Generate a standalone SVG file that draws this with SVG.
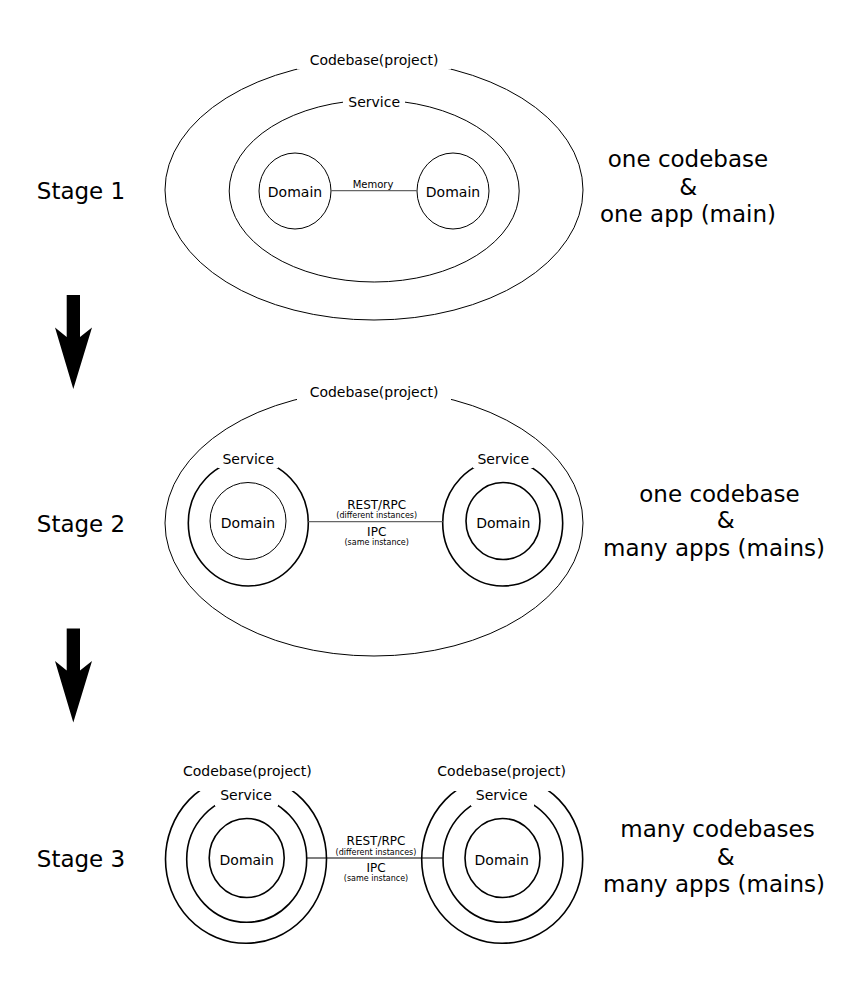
<svg xmlns="http://www.w3.org/2000/svg" width="868" height="987" viewBox="0 0 868 987">
<style>
text{font-family:"DejaVu Sans","Liberation Sans",sans-serif;fill:#000;text-anchor:middle}
.big{font-size:23px}
.lbl{font-size:14px}
.mid{font-size:12px}
.sm{font-size:8px}
.mem{font-size:10px}
.thin{fill:none;stroke:#000;stroke-width:1}
.thick{fill:none;stroke:#000;stroke-width:1.6}
.bg{fill:#fff}
.link{stroke:#666;stroke-width:1.2}
.link3{stroke:#000;stroke-width:1.2}
.arrow{fill:#000}
</style>
<rect width="868" height="987" fill="#fff"/>

<!-- Stage 1 -->
<g id="stage1-label"><text class="big" x="81" y="199">Stage 1</text></g>
<g id="stage1-codebase">
<ellipse class="thin" cx="374" cy="190" rx="209" ry="130"/>
<rect class="bg" x="297" y="48" width="154" height="21.5"/>
<text class="lbl" x="374" y="64.5">Codebase(project)</text>
</g>
<g id="stage1-service">
<ellipse class="thin" cx="374.2" cy="191" rx="145" ry="91"/>
<rect class="bg" x="343" y="90" width="62" height="13"/>
<text class="lbl" x="374.2" y="107">Service</text>
</g>
<g id="stage1-domainA">
<ellipse class="thin" cx="295" cy="191" rx="36" ry="38"/>
<text class="lbl" x="295" y="197">Domain</text>
</g>
<g id="stage1-domainB">
<ellipse class="thin" cx="453" cy="191" rx="36" ry="38"/>
<text class="lbl" x="453" y="197">Domain</text>
</g>
<g id="stage1-desc">
<text class="big" x="688" y="167.3">one codebase</text>
<text class="big" x="688.3" y="195">&amp;</text>
<text class="big" x="688" y="221.7">one app (main)</text>
</g>

<!-- Stage 2 -->
<g id="stage2-label"><text class="big" x="81" y="531.5">Stage 2</text></g>
<g id="stage2-codebase">
<ellipse class="thin" cx="374" cy="523" rx="209" ry="133"/>
<rect class="bg" x="297" y="379" width="154" height="22"/>
<text class="lbl" x="374" y="396.5">Codebase(project)</text>
</g>
<g id="stage2-serviceA">
<ellipse class="thick" cx="248.3" cy="523" rx="60" ry="63"/>
<rect class="bg" x="218" y="447" width="60" height="21"/>
<text class="lbl" x="248.3" y="464">Service</text>
</g>
<g id="stage2-domainA">
<ellipse class="thin" cx="248" cy="521" rx="38" ry="38.5"/>
<text class="lbl" x="248" y="528">Domain</text>
</g>
<g id="stage2-serviceB">
<ellipse class="thick" cx="502.7" cy="523" rx="60" ry="63"/>
<rect class="bg" x="473" y="447" width="60" height="21"/>
<text class="lbl" x="503.3" y="464">Service</text>
</g>
<g id="stage2-domainB">
<ellipse class="thick" cx="503" cy="521" rx="37" ry="38.5"/>
<text class="lbl" x="503.3" y="528">Domain</text>
</g>
<g id="stage2-desc">
<text class="big" x="719.5" y="501.7">one codebase</text>
<text class="big" x="725.7" y="528.3">&amp;</text>
<text class="big" x="714" y="556">many apps (mains)</text>
</g>

<!-- Stage 3 -->
<g id="stage3-label"><text class="big" x="81" y="866.5">Stage 3</text></g>
<g id="stage3-codebaseA">
<ellipse class="thick" cx="246" cy="859.3" rx="80.5" ry="84"/>
<rect class="bg" x="176" y="759" width="141" height="32"/>
<text class="lbl" x="247.3" y="775.5">Codebase(project)</text>
</g>
<g id="stage3-serviceA">
<ellipse class="thick" cx="246.7" cy="859.3" rx="60" ry="63"/>
<rect class="bg" x="215" y="783" width="63" height="23"/>
<text class="lbl" x="246" y="800">Service</text>
</g>
<g id="stage3-domainA">
<ellipse class="thick" cx="246.7" cy="858" rx="37.5" ry="39.5"/>
<text class="lbl" x="246.7" y="865">Domain</text>
</g>
<g id="stage3-codebaseB">
<ellipse class="thick" cx="502.2" cy="859.3" rx="80.5" ry="84"/>
<rect class="bg" x="432" y="759" width="141" height="32"/>
<text class="lbl" x="501.7" y="775.5">Codebase(project)</text>
</g>
<g id="stage3-serviceB">
<ellipse class="thick" cx="503" cy="859.3" rx="60" ry="63"/>
<rect class="bg" x="471" y="783" width="63" height="23"/>
<text class="lbl" x="501.7" y="800">Service</text>
</g>
<g id="stage3-domainB">
<ellipse class="thick" cx="502.5" cy="858" rx="37.5" ry="39.5"/>
<text class="lbl" x="501.7" y="865">Domain</text>
</g>
<g id="stage3-desc">
<text class="big" x="717.5" y="836.7">many codebases</text>
<text class="big" x="725.7" y="865">&amp;</text>
<text class="big" x="714" y="891.7">many apps (mains)</text>
</g>

<!-- Connectors -->
<g id="connectors">
<line class="link" x1="331" y1="190.7" x2="417" y2="190.7"/>
<text class="mem" x="373" y="188">Memory</text>
<line class="link" x1="308.3" y1="521.7" x2="442.7" y2="521.7"/>
<text class="mid" x="376.7" y="508.5">REST/RPC</text>
<text class="sm" x="376.7" y="517.5">(different instances)</text>
<text class="mid" x="376.7" y="536">IPC</text>
<text class="sm" x="376.7" y="545">(same instance)</text>
<line class="link3" x1="306.7" y1="858" x2="442.7" y2="858"/>
<text class="mid" x="376" y="845">REST/RPC</text>
<text class="sm" x="376" y="854.5">(different instances)</text>
<text class="mid" x="376" y="872">IPC</text>
<text class="sm" x="376" y="881">(same instance)</text>
<polygon class="arrow" points="66.7,295 80,295 80,337 92,327.5 73.3,389 55,327.5 66.7,337"/>
<polygon class="arrow" points="66.7,628.5 80,628.5 80,670.5 92,661 73.3,722.5 55,661 66.7,670.5"/>
</g>
</svg>
